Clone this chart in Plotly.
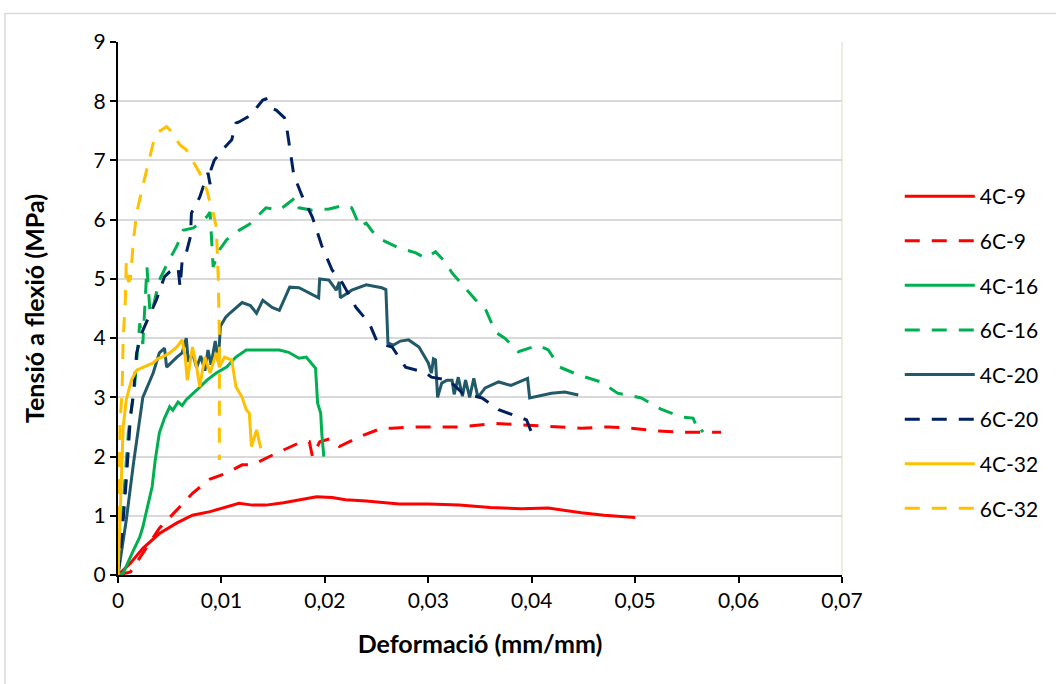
import plotly.graph_objects as go

# ---- data ----
x_4c9 = [0, 0.0005, 0.0012, 0.0024, 0.004, 0.0057, 0.0072, 0.0089, 0.0105, 0.0117, 0.013, 0.0143,
         0.016, 0.0175, 0.0192, 0.0207, 0.022, 0.024, 0.0272, 0.03, 0.033, 0.036, 0.039, 0.0416,
         0.0448, 0.047, 0.05]
y_4c9 = [0, 0.08, 0.2, 0.45, 0.7, 0.88, 1.01, 1.07, 1.15, 1.21, 1.18, 1.18,
         1.22, 1.27, 1.32, 1.31, 1.27, 1.25, 1.2, 1.2, 1.18, 1.14, 1.12, 1.13,
         1.05, 1.01, 0.97]

x_6c9 = [0, 0.0012, 0.0024, 0.004, 0.0057, 0.0072, 0.0089, 0.0105, 0.012, 0.013, 0.015, 0.0175,
         0.0185, 0.0188, 0.0195, 0.0205, 0.0214, 0.0233, 0.0255, 0.0265, 0.029, 0.033, 0.0365,
         0.0397, 0.0448, 0.0474, 0.0496, 0.0522, 0.055, 0.0583]
y_6c9 = [0, 0.05, 0.37, 0.79, 1.1, 1.38, 1.62, 1.72, 1.86, 1.86, 2.03, 2.23,
         2.25, 2.0, 2.25, 2.3, 2.17, 2.33, 2.48, 2.48, 2.5, 2.5, 2.56,
         2.53, 2.48, 2.5, 2.48, 2.43, 2.41, 2.41]

x_4c16 = [0, 0.0005, 0.0015, 0.0021, 0.0024, 0.0029, 0.0033, 0.0036, 0.004, 0.0045, 0.005, 0.0053,
          0.0058, 0.0062, 0.0066, 0.0076, 0.0086, 0.0095, 0.0105, 0.0114, 0.0124, 0.0137, 0.0156,
          0.0165, 0.0175, 0.0182, 0.0191, 0.0193, 0.0196, 0.0197, 0.0199]
y_4c16 = [0, 0.03, 0.42, 0.64, 0.81, 1.2, 1.49, 1.94, 2.4, 2.65, 2.84, 2.78,
          2.92, 2.86, 2.96, 3.12, 3.29, 3.41, 3.51, 3.68, 3.8, 3.8, 3.8,
          3.76, 3.66, 3.68, 3.49, 2.9, 2.73, 2.4, 2.0]

x_6c16 = [0, 0.0005, 0.001, 0.0016, 0.0021, 0.0024, 0.0028, 0.0031, 0.0034, 0.004, 0.0048, 0.0057,
          0.0063, 0.0073, 0.0086, 0.0089, 0.0092, 0.0098, 0.0105, 0.0117, 0.0127, 0.0143, 0.0156,
          0.0172, 0.0175, 0.0188, 0.0204, 0.022, 0.0226, 0.0231, 0.0233, 0.024, 0.0246, 0.0255,
          0.0272, 0.0288, 0.0297, 0.0307, 0.0317, 0.0323, 0.0333, 0.0346, 0.0355, 0.0365, 0.0374,
          0.0387, 0.0406, 0.0416, 0.0427, 0.0445, 0.0467, 0.0483, 0.0506, 0.0525, 0.0544, 0.0556,
          0.0562, 0.0566]
y_6c16 = [0, 1.2, 2.4, 3.18, 4.25, 3.9, 5.2, 4.42, 4.53, 4.98, 5.27, 5.56,
          5.82, 5.86, 6.05, 6.13, 5.2, 5.49, 5.66, 5.82, 5.92, 6.2, 6.16,
          6.38, 6.2, 6.16, 6.18, 6.25, 6.2, 6.0, 5.88, 5.94, 5.8, 5.66,
          5.52, 5.44, 5.35, 5.46, 5.27, 5.1, 4.9, 4.64, 4.5, 4.1, 4.0,
          3.77, 3.88, 3.8, 3.51, 3.38, 3.26, 3.07, 2.99, 2.8, 2.67, 2.65,
          2.4, 2.45]

x_4c20 = [0, 0.0008, 0.0015, 0.0021, 0.0024, 0.0034, 0.004, 0.0045, 0.0047, 0.0057, 0.0062, 0.0066,
          0.0068, 0.0072, 0.0076, 0.008, 0.0084, 0.0087, 0.009, 0.0094, 0.0097, 0.0099, 0.0104,
          0.0108, 0.012, 0.0128, 0.0134, 0.014, 0.0149, 0.0156, 0.0166, 0.0175, 0.0185, 0.0194,
          0.0195, 0.0204, 0.0211, 0.0214, 0.0215, 0.0226, 0.024, 0.0255, 0.0259, 0.0261, 0.0266,
          0.0273, 0.0281, 0.0291, 0.03, 0.0303, 0.0305, 0.0307, 0.0309, 0.0313, 0.0318, 0.0323,
          0.0325, 0.0329, 0.0333, 0.0336, 0.034, 0.0344, 0.0348, 0.0355, 0.0368, 0.038, 0.0396,
          0.0398, 0.0419, 0.0432, 0.0445]
y_4c20 = [0, 0.93, 1.89, 2.62, 3.0, 3.41, 3.75, 3.83, 3.51, 3.68, 3.75, 4.0,
          3.6, 3.75, 3.5, 3.7, 3.45, 3.8, 3.55, 3.95, 3.6, 4.2, 4.35,
          4.42, 4.6, 4.55, 4.42, 4.64, 4.52, 4.47, 4.86, 4.85, 4.76, 4.68,
          5.0, 4.98, 4.81, 4.95, 4.68, 4.81, 4.9, 4.85, 4.82, 3.92, 3.88,
          3.95, 3.97, 3.85, 3.58, 3.41, 3.65, 3.63, 3.0, 3.24, 3.29, 3.29,
          3.05, 3.34, 3.02, 3.29, 3.0, 3.32, 3.0, 3.16, 3.26, 3.2, 3.32,
          2.99, 3.07, 3.09, 3.04]

x_6c20 = [0, 0.0004, 0.0008, 0.0012, 0.0015, 0.0018, 0.0023, 0.0031, 0.0037, 0.0045, 0.005, 0.0058,
          0.006, 0.0062, 0.0065, 0.007, 0.0071, 0.0079, 0.0087, 0.0089, 0.009, 0.0093, 0.0101,
          0.011, 0.0114, 0.0117, 0.0129, 0.0134, 0.014, 0.0143, 0.0148, 0.0153, 0.0161, 0.0163,
          0.0167, 0.017, 0.0178, 0.0188, 0.0197, 0.0207, 0.0217, 0.023, 0.0243, 0.0251, 0.0265,
          0.0278, 0.0297, 0.0303, 0.032, 0.0333, 0.0352, 0.0368, 0.0387, 0.0395, 0.04, 0.0406]
y_6c20 = [0, 0.7, 1.6, 2.67, 3.07, 3.75, 4.09, 4.42, 4.64, 5.04, 5.12, 5.2,
          4.86, 5.3, 5.37, 5.71, 6.11, 6.38, 6.79, 6.6, 6.85, 7.0, 7.18,
          7.35, 7.63, 7.65, 7.77, 7.89, 8.02, 8.04, 7.88, 7.85, 7.72, 7.57,
          7.1, 6.75, 6.4, 6.04, 5.56, 5.15, 4.93, 4.52, 4.25, 3.92, 3.85,
          3.51, 3.42, 3.34, 3.29, 3.07, 2.99, 2.79, 2.67, 2.62, 2.4, 2.47]

x_4c32 = [0, 0.0002, 0.0004, 0.0005, 0.0008, 0.0013, 0.0018, 0.0024, 0.0034, 0.0039, 0.0043, 0.005,
          0.0057, 0.0062, 0.0065, 0.0067, 0.0072, 0.0076, 0.0079, 0.0084, 0.0089, 0.0095, 0.0098,
          0.0103, 0.011, 0.0114, 0.012, 0.0124, 0.0127, 0.0129, 0.0134, 0.0138]
y_4c32 = [0, 0.93, 2.05, 2.5, 2.96, 3.29, 3.46, 3.51, 3.58, 3.66, 3.68, 3.75,
          3.85, 3.97, 3.68, 3.29, 3.85, 3.51, 3.18, 3.68, 3.41, 3.75, 3.51,
          3.68, 3.63, 3.18, 3.0, 2.79, 2.73, 2.17, 2.45, 2.14]

x_6c32 = [0, 0.0002, 0.0004, 0.0005, 0.0007, 0.0008, 0.001, 0.0012, 0.0015, 0.0018, 0.0023, 0.0028,
          0.0031, 0.0034, 0.0039, 0.0045, 0.0047, 0.005, 0.006, 0.0066, 0.0072, 0.0079, 0.0082,
          0.0086, 0.0089, 0.0092, 0.0095, 0.0096, 0.0097, 0.0098, 0.0098]
y_6c32 = [0, 2.57, 3.12, 4.0, 4.6, 5.27, 4.95, 5.0, 5.66, 6.11, 6.5, 6.84,
          7.06, 7.29, 7.48, 7.55, 7.57, 7.52, 7.26, 7.18, 7.0, 6.79, 6.62,
          6.5, 6.28, 6.11, 5.88, 5.54, 4.98, 4.0, 1.94]

names = ["4C-9", "6C-9", "4C-16", "6C-16", "4C-20", "6C-20", "4C-32", "6C-32"]
xs = [x_4c9, x_6c9, x_4c16, x_6c16, x_4c20, x_6c20, x_4c32, x_6c32]
ys = [y_4c9, y_6c9, y_4c16, y_6c16, y_4c20, y_6c20, y_4c32, y_6c32]
colors = ["#ff0000", "#ff0000", "#00b050", "#00b050", "#215968", "#002060", "#ffc000", "#ffc000"]
dashes = ["solid", "15px,12px", "solid", "15px,12px", "solid", "15px,12px", "solid", "15px,12px"]

x_tickvals = [0, 0.01, 0.02, 0.03, 0.04, 0.05, 0.06, 0.07]
x_ticktext = ["0", "0,01", "0,02", "0,03", "0,04", "0,05", "0,06", "0,07"]
y_tickvals = [0, 1, 2, 3, 4, 5, 6, 7, 8, 9]

FONT = "Lato"

fig = go.Figure()
for n, x, y, c, d in zip(names, xs, ys, colors, dashes):
    fig.add_trace(go.Scatter(x=x, y=y, mode="lines", name=n, legendgroup=n,
                             line=dict(color=c, width=3, dash=d)))

W, H = 1056, 684
L, R, T, B = 118, 845, 42, 575
pw, ph = R - L, B - T

def px(xp):
    return (xp - L) / pw

def py(yp):
    return (B - yp) / ph

fig.update_layout(
    width=W, height=H,
    margin=dict(l=L, r=W - R, t=T, b=H - B),
    paper_bgcolor="white", plot_bgcolor="white",
    font=dict(family=FONT, size=20, color="#000000"),
    showlegend=True,
    legend=dict(x=px(903), y=py(176), xanchor="left", yanchor="top",
                font=dict(family=FONT, size=21, color="#000000"),
                tracegroupgap=14.3, itemwidth=70, bgcolor="rgba(0,0,0,0)"),
    xaxis=dict(range=[0, 0.07], tickvals=x_tickvals, ticktext=x_ticktext,
               showgrid=False, zeroline=False, showline=True, linecolor="#000000", linewidth=2,
               ticks="outside", ticklen=6, tickwidth=2, tickcolor="#000000",
               tickfont=dict(family=FONT, size=21, color="#000000"),
               title=dict(text="<b>Deformació (mm/mm)</b>", font=dict(family=FONT, size=25), standoff=24)),
    yaxis=dict(range=[0, 9], tickvals=y_tickvals,
               showgrid=True, gridcolor="#d9d9d9", gridwidth=1.5, zeroline=False,
               showline=True, linecolor="#000000", linewidth=2,
               ticks="outside", ticklen=6, tickwidth=2, tickcolor="#000000",
               tickfont=dict(family=FONT, size=21, color="#000000"),
               title=dict(text="<b>Tensió a flexió (MPa)</b>", font=dict(family=FONT, size=25), standoff=42)),
    shapes=[
        dict(type="rect", xref="paper", yref="paper", x0=px(4.5), x1=px(1080), y0=py(700), y1=py(13.5),
             line=dict(color="#d9d9d9", width=1.5), layer="below"),
        dict(type="line", xref="paper", yref="paper", x0=1, x1=1, y0=0, y1=1,
             line=dict(color="#eeece1", width=2), layer="below"),
    ],
)

fig.write_html("out.html")
